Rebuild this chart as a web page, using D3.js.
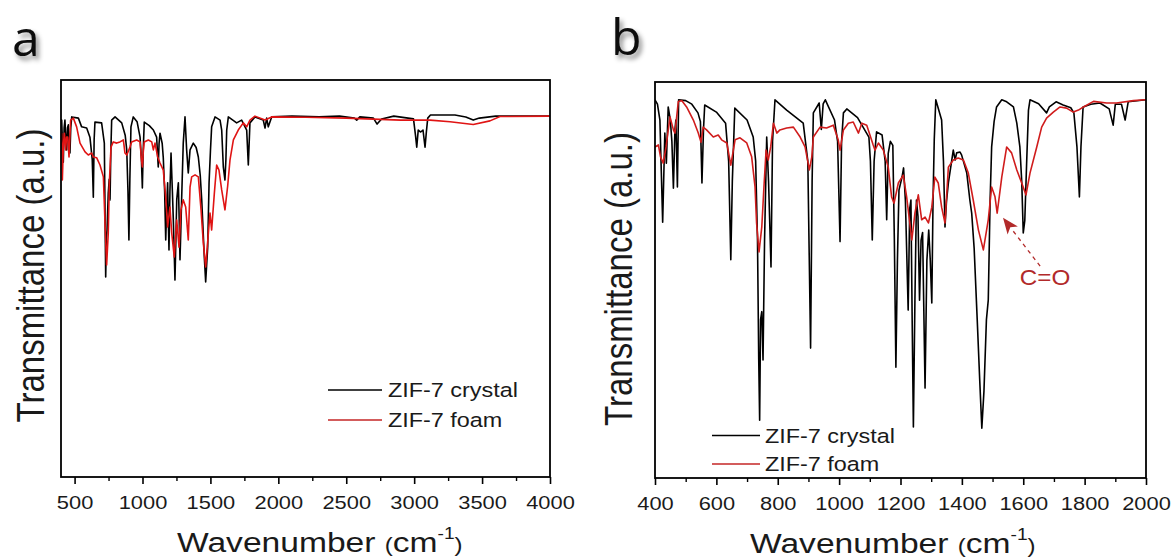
<!DOCTYPE html>
<html><head><meta charset="utf-8">
<script src="https://cdn.jsdelivr.net/npm/d3@7"></script>
<style>body{margin:0;background:#fff;} svg{display:block;}</style>
</head><body>
<svg id="chart" width="1175" height="560"></svg>
<script>
// ---------- DATA (wavenumber cm-1, transmittance a.u.) ----------
const aCrystal = [[400,89.9],[405,89.9],[411,84],[417,79.3],[423,88],[429,89.9],[436,85],[442,82.4],[448,88],[454,88.7],[460,84],[466,81.6],[472,88],[479,90.7],[528,90.4],[552,88.2],[589,87.9],[613,85.6],[630,80],[638,70.5],[644,85],[650,89.4],[699,89.2],[719,84.1],[729,50.4],[734,60],[739,62.2],[748,71.5],[755,75],[761,69.8],[767,82],[773,89.9],[798,90.7],[847,89.2],[873,86],[884,82.4],[893,72],[900,59.7],[907,75],[915,88.2],[932,90.7],[960,89.5],[982,85.6],[992,80],[999,72.8],[1005,82],[1013,89.4],[1050,88.5],[1080,87.4],[1104,85.6],[1116,78.1],[1122,84],[1129,86.6],[1145,84],[1153,80.4],[1163,72],[1171,59.7],[1178,68],[1185,74.1],[1190,65],[1195,57.2],[1202,72],[1210,81.6],[1220,72],[1227,64.7],[1239,49.6],[1246,60],[1252,69.8],[1258,72],[1264,74.1],[1270,65],[1276,54.7],[1282,62],[1288,69.8],[1300,84.1],[1313,90.7],[1325,82.4],[1337,76.6],[1350,82.4],[1374,84.1],[1395,83],[1411,80.6],[1425,76],[1436,69.8],[1455,55.4],[1465,49.1],[1480,57.9],[1490,74.1],[1500,82],[1509,88.2],[1534,90.7],[1571,89.9],[1583,87.4],[1595,78.1],[1607,74.8],[1614,80],[1620,87.4],[1632,90.7],[1693,89.2],[1730,89.9],[1767,87.4],[1779,78.6],[1791,89.2],[1828,90.7],[1889,89.9],[1902,87.9],[1914,90.4],[1926,88.2],[1951,90.7],[2100,90.9],[2300,90.7],[2450,90.9],[2560,90.4],[2577,89.9],[2600,90.7],[2700,90.4],[2727,88.9],[2760,90.2],[2850,90.9],[2995,90.2],[3010,86],[3019,83.1],[3030,87.4],[3048,86.9],[3065,87.4],[3080,83.1],[3090,87],[3100,90.4],[3120,91.2],[3300,91.2],[3380,90.7],[3435,89.9],[3480,90.4],[3600,90.9],[3800,90.9],[4000,90.9]];

const aFoam = [[405,86.6],[410,74.8],[418,84],[425,86.6],[434,82.4],[441,85.6],[449,85.6],[459,80.6],[471,89.9],[491,90.4],[515,88.2],[540,84.1],[577,81.9],[601,81.1],[626,81.6],[638,80.6],[663,80.4],[687,78.6],[712,75.6],[724,64.0],[736,53.4],[748,61.5],[756,74.1],[768,83.1],[785,84.4],[810,84.1],[834,84.4],[859,84.9],[871,81.6],[884,81.1],[908,83.1],[920,84.4],[957,84.9],[982,84.4],[992,80],[999,78.1],[1006,82],[1013,84.4],[1043,84.9],[1068,84.4],[1080,82.4],[1092,84.1],[1112,80.6],[1129,79.1],[1153,77.3],[1171,70.5],[1185,63.0],[1202,68.0],[1215,61.5],[1234,55.4],[1252,64.7],[1269,57.9],[1283,67.3],[1300,69.8],[1318,68.0],[1337,59.7],[1350,73.0],[1362,75.6],[1387,76.1],[1411,75.6],[1431,67.3],[1448,58.9],[1465,52.9],[1485,61.5],[1497,66.5],[1509,62.2],[1529,71.5],[1546,78.6],[1563,77.3],[1583,72.3],[1607,67.3],[1627,73.3],[1644,79.8],[1669,84.9],[1705,87.4],[1742,89.2],[1767,88.2],[1791,89.9],[1828,90.9],[1902,89.9],[1951,90.7],[2200,90.6],[2500,90.4],[2900,89.9],[3117,89.9],[3264,89.5],[3435,88.8],[3558,89.7],[3632,90.8],[4000,90.9]];

const bCrystal = [[400,95.5],[408,94.4],[416,90.4],[425,64.6],[432,87.1],[437,79.5],[443,93.7],[450,90.4],[455,85],[460,73.2],[465,88],[468,90.4],[473,73.5],[477,95.5],[500,95.3],[520,94.4],[540,92.2],[548,90],[553,74.5],[558,88],[562,94.2],[600,92.4],[630,89.6],[640,80],[647,55.1],[652,75],[660,93.4],[700,90.4],[720,86.1],[728,80],[734,60],[738,30],[741,14.6],[744,40],[748,42],[752,29.8],[757,60],[764,86.1],[770,75],[778,53.3],[783,85],[791,95.5],[829,92.9],[883,89.6],[898,80],[907,32.8],[912,75],[916,92.2],[935,94.7],[942,88],[948,94.5],[955,95.5],[985,90.4],[995,85],[1003,59.7],[1008,85],[1014,92.2],[1025,93.2],[1060,91],[1097,86.1],[1102,80],[1108,60.1],[1114,80],[1122,87.4],[1140,86.6],[1150,80],[1155,65.2],[1160,82],[1167,85],[1175,84],[1180,60],[1185,28.0],[1190,55],[1195,72.7],[1205,76],[1210,78.3],[1216,70],[1225,42.4],[1230,68],[1234,70.2],[1238,40],[1242,12.9],[1247,45],[1252,70.2],[1257,66],[1262,44.9],[1267,60],[1272,62],[1280,22.7],[1286,55],[1292,62.6],[1297,55],[1302,44.2],[1306,70],[1310,85.4],[1315,95.5],[1334,90.4],[1340,80],[1345,63.4],[1350,70],[1356,74.5],[1372,82.8],[1378,80.3],[1383,82.1],[1394,82.3],[1399,81.6],[1416,77.0],[1426,70.2],[1432,66.9],[1440,58],[1450,40],[1458,25],[1465,12.6],[1472,22],[1480,40],[1486,44.9],[1492,70],[1497,83.6],[1505,90],[1513,93.7],[1530,95.5],[1546,95],[1568,93.7],[1579,89.6],[1589,83.6],[1595,75],[1600,61.9],[1605,65],[1611,79.5],[1617,92.9],[1622,95.5],[1650,94.5],[1676,92.2],[1685,93.7],[1707,95.0],[1730,94.2],[1755,93.5],[1765,92.2],[1775,83.6],[1783,71.0],[1788,83.6],[1795,93.7],[1820,94.4],[1850,94.7],[1880,93.2],[1893,89.1],[1900,94.4],[1920,94.4],[1932,90.4],[1942,95],[2000,95.5]];

const bFoam = [[400,83.6],[411,84.1],[418,81.1],[427,79.5],[436,83.6],[449,91.2],[460,87.9],[465,87.1],[476,95.1],[487,95.3],[503,93.7],[525,90.4],[541,87.1],[550,84.8],[557,88.6],[568,87.9],[590,86.1],[606,86.6],[617,85.4],[634,84.6],[647,79.0],[661,85.4],[677,85.9],[699,84.6],[715,81.1],[726,73.5],[731,64.4],[739,57.1],[748,63.4],[755,73.5],[762,82.8],[769,80.3],[777,83.6],[786,89.6],[797,87.1],[807,87.9],[829,88.4],[851,88.6],[873,86.1],[889,83.6],[903,77.8],[911,81.1],[916,86.1],[938,88.6],[959,88.4],[981,89.1],[997,85.4],[1003,82.8],[1014,87.9],[1030,89.6],[1046,89.9],[1063,87.1],[1074,89.6],[1090,89.1],[1111,84.1],[1117,82.8],[1128,84.6],[1144,82.8],[1160,78.5],[1171,71.0],[1179,69.4],[1193,74.5],[1209,76.5],[1220,71.0],[1237,60.1],[1247,66.9],[1258,71.5],[1269,65.2],[1280,65.9],[1291,64.4],[1302,68.4],[1312,76.0],[1323,74.5],[1334,68.4],[1345,64.4],[1356,78.5],[1372,80.3],[1388,80.8],[1405,80.3],[1421,77.0],[1437,70.2],[1454,62.6],[1470,57.6],[1486,65.2],[1497,73.5],[1508,71.0],[1515,66.9],[1530,76.0],[1546,83.6],[1562,82.1],[1579,77.8],[1595,74.5],[1609,71.5],[1622,77.0],[1644,83.6],[1660,88.6],[1676,90.9],[1698,92.4],[1720,93.7],[1741,93.4],[1763,92.4],[1780,92.9],[1796,93.7],[1829,95.1],[1872,94.7],[1904,94.7],[1959,95.3],[1997,95.5],[2000,95.5]];

const aTicks = [500,1000,1500,2000,2500,3000,3500,4000];
const aMinor = [750,1250,1750,2250,2750,3250,3750];
const bTicks = [400,600,800,1000,1200,1400,1600,1800,2000];
const bMinor = [500,700,900,1100,1300,1500,1700,1900];
const seriesNames = ["ZIF-7 crystal","ZIF-7 foam"];
const yLabel = "Transmittance (a.u.)";
const panelLetters = ["a","b"];
const annotationLabel = "C=O";

// ---------- DRAWING ----------
const svg = d3.select("#chart");
const defs = svg.append("defs");
const f = defs.append("filter").attr("id","shadow").attr("x","-50%").attr("y","-50%").attr("width","200%").attr("height","200%");
f.append("feDropShadow").attr("dx",3).attr("dy",4).attr("stdDeviation",2.5).attr("flood-color","#000").attr("flood-opacity",0.45);

const FONT = "'Liberation Sans', Arial, sans-serif";
const SX = 1.2;

const panels = [
  {letter:panelLetters[0], crystal:aCrystal, foam:aFoam, domain:[400,4000], ticks:aTicks, minor:aMinor,
   L:61, R:550, T:80, B:477, red:"#e01414",
   letterPos:[12,56], ylabX:44, xlabX:177, xlabY:552,
   leg:{x1:328,x2:382,y:[390,420],tx:388}},
  {letter:panelLetters[1], crystal:bCrystal, foam:bFoam, domain:[400,2000], ticks:bTicks, minor:bMinor,
   L:655, R:1146, T:82, B:478, red:"#d01c1c",
   letterPos:[611,55], ylabX:632, xlabX:750, xlabY:553,
   leg:{x1:712,x2:760,y:[435.5,464],tx:765}}
];

panels.forEach((p, i) => {
  const x = d3.scaleLinear().domain(p.domain).range([p.L, p.R]);
  const y = d3.scaleLinear().domain([0,100]).range([p.B, p.T]);
  const g = svg.append("g");
  const clipId = "clip"+i;
  defs.append("clipPath").attr("id",clipId).append("rect")
    .attr("x",p.L).attr("y",p.T).attr("width",p.R-p.L).attr("height",p.B-p.T);

  const line = d3.line().x(d=>x(d[0])).y(d=>y(d[1]));
  const lg = g.append("g").attr("clip-path",`url(#${clipId})`);
  lg.append("path").datum(p.crystal).attr("d",line).attr("fill","none")
    .attr("stroke","#000").attr("stroke-width",1.6).attr("stroke-linejoin","round");
  lg.append("path").datum(p.foam).attr("d",line).attr("fill","none")
    .attr("stroke",p.red).attr("stroke-width",1.6).attr("stroke-linejoin","round");

  // frame
  g.append("rect").attr("x",p.L).attr("y",p.T).attr("width",p.R-p.L).attr("height",p.B-p.T)
    .attr("fill","none").attr("stroke","#000").attr("stroke-width",1.8);

  // axes
  const ax = g.append("g").attr("transform",`translate(0,${p.B})`)
    .call(d3.axisBottom(x).tickValues(p.ticks).tickSize(7).tickPadding(12).tickFormat(d3.format("d")));
  ax.select(".domain").remove();
  ax.selectAll(".tick line").attr("stroke","#000").attr("stroke-width",1.6);
  ax.selectAll(".tick text").attr("font-family",FONT).attr("font-size",19).attr("fill","#1a1a1a")
    .attr("transform",`scale(1.15,1)`);
  const axm = g.append("g").attr("transform",`translate(0,${p.B})`)
    .call(d3.axisBottom(x).tickValues(p.minor).tickSize(4).tickFormat(""));
  axm.select(".domain").remove();
  axm.selectAll(".tick line").attr("stroke","#000").attr("stroke-width",1.4);

  // x label
  const xl = g.append("text").attr("transform",`translate(${p.xlabX},${p.xlabY}) scale(${SX},1)`)
    .attr("font-family",FONT).attr("font-size",28).attr("fill","#1a1a1a");
  xl.append("tspan").text("Wavenumber ");
  xl.append("tspan").attr("font-size",20).text("(");
  xl.append("tspan").text("cm");
  xl.append("tspan").attr("font-size",16).attr("dy",-13).text("-1");
  xl.append("tspan").attr("font-size",20).attr("dy",13).text(")");

  // y label
  g.append("text").attr("transform",`translate(${p.ylabX},${(p.T+p.B)/2+(i?-1:-3)}) scale(${SX},1) rotate(-90)`)
    .attr("text-anchor","middle").attr("font-family",FONT).attr("font-size",33).attr("fill","#1a1a1a")
    .text(yLabel);

  // panel letter
  g.append("text").attr("x",p.letterPos[0]).attr("y",p.letterPos[1])
    .attr("font-family","'Open Sans','Noto Sans',sans-serif").attr("font-size",50).attr("fill","#111")
    .attr("filter","url(#shadow)").text(p.letter);

  // legend
  seriesNames.forEach((name, k) => {
    g.append("line").attr("x1",p.leg.x1).attr("x2",p.leg.x2).attr("y1",p.leg.y[k]).attr("y2",p.leg.y[k])
      .attr("stroke", k ? "#c42626" : "#000").attr("stroke-width",1.6);
    g.append("text").attr("transform",`translate(${p.leg.tx},${p.leg.y[k]+7}) scale(${SX},1)`)
      .attr("font-family",FONT).attr("font-size",19.5).attr("fill","#1a1a1a").text(name);
  });

  // annotation on panel b
  if (i === 1) {
    const ac = "#b22a2a";
    const tip = [x(1534), y(65.7)], tail = [x(1655), y(53.5)];
    const dx = tip[0]-tail[0], dy = tip[1]-tail[1], len = Math.hypot(dx,dy);
    const ux = dx/len, uy = dy/len, hl = 16, hw = 6.5;
    const base = [tip[0]-ux*hl, tip[1]-uy*hl];
    g.append("line").attr("x1",tail[0]).attr("y1",tail[1]).attr("x2",base[0]).attr("y2",base[1])
      .attr("stroke",ac).attr("stroke-width",1.3).attr("stroke-dasharray","4,4");
    g.append("path").attr("d",`M${tip[0]},${tip[1]}L${base[0]-uy*hw},${base[1]+ux*hw}L${base[0]+ux*4},${base[1]+uy*4}L${base[0]+uy*hw},${base[1]-ux*hw}Z`)
      .attr("fill",ac);
    g.append("text").attr("transform",`translate(${x(1671)},${y(48.7)}) scale(1.1,1)`)
      .attr("text-anchor","middle").attr("font-family",FONT).attr("font-size",22).attr("fill",ac)
      .text(annotationLabel);
  }
});
</script>
</body></html>
